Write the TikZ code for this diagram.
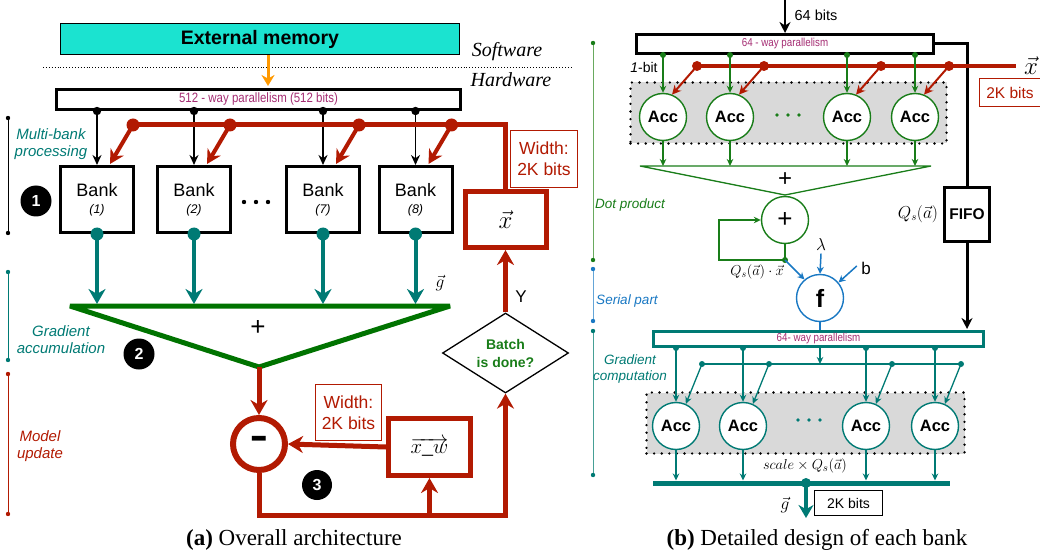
\documentclass[tikz,border=0pt]{standalone}
\usepackage{fontspec}
\setmainfont{Liberation Serif}
\setsansfont{Liberation Sans}
\newfontfamily\hv{Liberation Sans}
\newfontfamily\narrow[FakeStretch=0.85]{Liberation Sans}
\usetikzlibrary{arrows.meta,shapes.geometric,shadows,calc}
\definecolor{cyanbox}{RGB}{27,227,208}
\definecolor{dred}{RGB}{178,26,2}
\definecolor{teal2}{RGB}{0,122,116}
\definecolor{dgreen}{RGB}{0,115,0}
\definecolor{mgreen}{RGB}{25,125,25}
\definecolor{orng}{RGB}{255,153,0}
\definecolor{magt}{RGB}{165,45,115}
\definecolor{fblue}{RGB}{25,120,195}
\definecolor{lgreen}{RGB}{105,170,95}
\definecolor{lblue}{RGB}{100,165,215}
\definecolor{lteal}{RGB}{70,160,150}
\definecolor{grayfill}{RGB}{217,217,217}
\tikzset{
  blkbox/.style={draw, line width=3pt, inner sep=0pt, fill=white},
  redbox/.style={draw=dred, line width=5pt, inner sep=0pt, fill=white},
  shad/.style={drop shadow={shadow xshift=1.2pt, shadow yshift=-1.2pt, opacity=0.3, fill=black}},
  wbox/.style={draw=dred, line width=0.8pt, text=dred, inner sep=0pt, align=center,
    font=\hv\fontsize{17.5}{21}\selectfont, minimum width=66, minimum height=56, fill=white},
  numc/.style={circle, fill=black, text=white, inner sep=0pt, minimum size=31,
    font=\hv\bfseries\fontsize{16}{16}\selectfont},
  bankbox/.style={blkbox, shad, minimum width=73, minimum height=66, align=center,
    font=\hv\fontsize{18}{19}\selectfont},
  accg/.style={circle, draw=mgreen, line width=1.4pt, fill=white, minimum size=47, inner sep=0pt,
    font=\hv\bfseries\fontsize{16.5}{16.5}\selectfont},
  acct/.style={accg, draw=teal2},
  graybox/.style={fill=grayfill, draw=black, line width=2.6pt, dash pattern=on 0pt off 7.6pt,
    line cap=round, inner sep=0pt},
  brk/.style={line width=1pt},
  brklbl/.style={font=\hv\itshape\fontsize{15}{17}\selectfont, align=center},
  brklblr/.style={font=\hv\itshape\fontsize{13.5}{15.5}\selectfont, align=center},
  parlbl/.style={font=\narrow\fontsize{13.5}{13.5}\selectfont, text=magt},
  parlbls/.style={font=\narrow\fontsize{11.5}{11.5}\selectfont, text=magt},
  bigred/.style={dred, line width=5pt, -{Stealth[length=15pt,width=17pt]}},
  thinarr/.style={line width=1.3pt, -{Stealth[length=7pt,width=6.5pt]}},
}
\begin{document}
\begin{tikzpicture}[x=1pt,y=-1pt]
\useasboundingbox (0,0) rectangle (1040,553);

% ================= LEFT PANEL =================
\node[draw, line width=1pt, fill=cyanbox, minimum width=399, minimum height=31, inner sep=0pt,
  font=\hv\bfseries\fontsize{19.5}{19.5}\selectfont] (ext) at (260,39) {External memory};
\coordinate (dl) at (43,67); \coordinate (dr) at (572,67);
\draw[dotted, line width=0.9pt] (dl) -- (dr);
\node[font=\itshape\fontsize{20}{20}\selectfont] (sw) at (507,52) {Software};
\node[font=\itshape\fontsize{20}{20}\selectfont] (hw) at (511,80) {Hardware};

\node[blkbox, minimum width=404, minimum height=20, parlbl] (p512) at (258.5,99.5)
  {512 - way parallelism (512 bits)};
\draw[orng, line width=3pt, -{Stealth[length=11pt,width=13pt]}, shorten >=2pt]
  ($(ext.south)+(8,0)$) -- ($(p512.north)+(9.5,0)$);

% banks
\foreach \n/\x/\l in {b1/97/1, b2/194/2, b7/323/7, b8/415.5/8}{
  \node[bankbox] (\n) at (\x,199.5) {Bank\\[-2pt]{\itshape\fontsize{12.5}{12.5}\selectfont(\l)}};
}
\fill (244,202) circle (2.2) (256,202) circle (2.2) (268,202) circle (2.2);

% x vector box
\node[redbox, shad, minimum width=81, minimum height=56, font=\fontsize{24}{24}\selectfont]
  (xv) at (505.5,219.5) {$\vec{x}$};
\node[wbox, minimum width=67, minimum height=57] (w1) at (544,158.5) {Width:\\2K bits};

% black taps
\coordinate (rbus) at (0,125);
\foreach \n in {b1,b2,b7,b8}{
  \coordinate (k\n) at ($(\n.north)+(36,0)$);
  \fill (\n.north |- p512.south) circle (4.2);
  \draw[line width=1.6pt, -{Stealth[length=10pt,width=9pt]}] (\n.north |- p512.south) -- (\n.north);
}
% red bus
\draw[dred, line width=5pt] (xv.north) |- (kb1 |- rbus);
\foreach \n in {b1,b2,b7,b8}{
  \fill[dred] (k\n |- rbus) circle (6.5);
  \draw[dred, line width=4pt, -{Stealth[length=14pt,width=15pt]}] (k\n |- rbus) -- ($(\n.north)+(13,-1)$);
}

% accumulation triangle
\coordinate (gl) at (70,306); \coordinate (gr) at (450,306); \coordinate (apex) at (259,367);
\draw[dgreen, line width=5pt, line join=bevel] (gl) -- (gr) -- (apex) -- cycle;
\foreach \n in {b1,b2,b7,b8}{
  \draw[teal2, line width=4pt, -{Stealth[length=15pt,width=17pt]}, shorten >=2pt] (\n.south) -- (\n.south |- gl);
  \fill[teal2] (\n.south) circle (6.5);
}
\node[font=\hv\fontsize{26}{26}\selectfont] (plusa) at (258,328) {+};
\node[font=\fontsize{19}{19}\selectfont] (gvec) at (440,283) {$\vec{g}$};

\node[numc] (n1) at (36,201) {1};
\node[numc] (n2) at (139,354) {2};
\node[numc, minimum size=30] (n3) at (317,485) {3};

% model update
\node[circle, draw=dred, line width=6pt, minimum size=52, inner sep=0pt, fill=white,
  font=\hv\bfseries\fontsize{28}{28}\selectfont] (minus) at (259,444) {\raisebox{-2pt}{\scalebox{1}[1.7]{–}}};
\draw[bigred] (apex) -- (minus.north);
\node[redbox, shad, minimum width=82, minimum height=57, font=\fontsize{22}{22}\selectfont]
  (xw) at (429.5,447) {$\overrightarrow{x\_w}$};
\draw[bigred] (xw.west) -- (minus.east);
\node[wbox] (w2) at (348.5,412.5) {Width:\\2K bits};

\node[diamond, draw, line width=1.3pt, aspect=1.575, minimum width=126, minimum height=80,
  inner sep=0pt, align=center, text=mgreen, font=\hv\bfseries\fontsize{14}{18}\selectfont]
  (dia) at (505.5,353) {Batch\\is done?};
\draw[bigred] (dia.north) -- (xv.south);
\node[font=\hv\fontsize{17}{17}\selectfont] (ylab) at (521,297) {Y};

\coordinate (loopy) at (0,515);
\draw[dred, line width=5pt, line join=miter, -{Stealth[length=15pt,width=17pt]}]
  (minus.south) |- (loopy -| dia.south) -- (dia.south);
\draw[bigred] (xw.south |- loopy) -- (xw.south);

% left brackets
\coordinate (k1a) at (8,118); \coordinate (k1b) at (8,233);
\coordinate (k2a) at (8,272); \coordinate (k2b) at (8,360);
\coordinate (k3a) at (8,374); \coordinate (k3b) at (8,514);
\draw[brk, black] (k1a) -- (k1b); \fill[black] (k1a) circle (2.2) (k1b) circle (2.2);
\draw[brk, teal2] (k2a) -- (k2b); \fill[teal2] (k2a) circle (2.2) (k2b) circle (2.2);
\draw[brk, dred] (k3a) -- (k3b); \fill[dred] (k3a) circle (2.2) (k3b) circle (2.2);
\node[brklbl, text=teal2] (lb1) at (51,144) {Multi-bank\\processing};
\node[brklbl, text=teal2] (lb2) at (61,340) {Gradient\\accumulation};
\node[brklbl, text=dred] (lb3) at (40,446) {Model\\update};

\node[font=\fontsize{23}{23}\selectfont] (capa) at (294,540) {\textbf{(a)} Overall architecture};

% ================= RIGHT PANEL =================
\coordinate (top64) at (785,0);
\node[blkbox, minimum width=297, minimum height=19, parlbls] (p64) at (785,44) {64 - way parallelism};
\draw[line width=2.6pt, -{Stealth[length=11pt,width=11pt]}] (top64) -- (p64.north);
\node[font=\hv\fontsize{14.5}{14.5}\selectfont] (t64) at (816,15) {64 bits};

\node[blkbox, minimum width=45, minimum height=54, font=\hv\bfseries\fontsize{15.5}{15.5}\selectfont]
  (fifo) at (967,214.5) {FIFO};
\draw[line width=3pt] (p64.east) -| (fifo.north);
\node[font=\fontsize{16}{16}\selectfont] (qsa) at (918,214) {$Q_s(\vec{a})$};

% gray region 1 and accs
\node[graybox, minimum width=316, minimum height=61] (reg1) at (788.5,113) {};
\foreach \n/\x in {a1/663, a2/730, a3/847, a4/915}{
  \node[accg] (\n) at (\x,117) {Acc};
}
\fill[mgreen] (777,115) circle (1.8) (788,115) circle (1.8) (799,115) circle (1.8);

% red bus right
\coordinate (xr) at (1016,66);
\coordinate (rb2) at (0,66);
\foreach \n in {a1,a2,a3,a4}{ \coordinate (k\n) at ($(\n.center)+(34,0)$); }
\draw[dred, line width=4.5pt] (ka1 |- rb2) -- (xr);
\foreach \n in {a1,a2,a3,a4}{
  \fill[dred] (k\n |- rb2) circle (5);
  \draw[dred, line width=2pt, -{Stealth[length=9pt,width=9pt]}] (k\n |- rb2) -- (\n.68);
}
\node[font=\fontsize{24}{24}\selectfont] (xvr) at (1031,66) {$\vec{x}$};
\node[draw=dred, line width=0.8pt, text=dred, minimum width=62, minimum height=28, inner sep=0pt,
  font=\hv\fontsize{15.5}{15.5}\selectfont] (w3) at (1010,92.5) {2K bits};

% green taps
\foreach \n in {a1,a2,a3,a4}{
  \fill[mgreen] (\n.north |- p64.south) circle (3);
  \draw[mgreen, thinarr] (\n.north |- p64.south) -- (\n.north);
}
\node[font=\hv\fontsize{14}{14}\selectfont] (onebit) at (644,67) {{\itshape 1}-bit};

% dot product triangle
\coordinate (tl1) at (640,166); \coordinate (tr1) at (931,166); \coordinate (ap1) at (785,195);
\draw[mgreen, line width=1.3pt] (tl1) -- (tr1) -- (ap1) -- cycle;
\foreach \n in {a1,a2,a3,a4}{
  \draw[mgreen, thinarr] (\n.south) -- (\n.south |- tl1);
}
\node[font=\hv\fontsize{24}{24}\selectfont] (plusb) at (785,180) {+};
\node[circle, draw=mgreen, line width=1.4pt, minimum size=47, inner sep=0pt, fill=white,
  font=\hv\fontsize{26}{26}\selectfont] (pl2) at (785,220) {+};
\coordinate (fb) at (785,260); \coordinate (fbl) at (719,260);
\draw[mgreen, line width=1.3pt] (pl2.south) -- (fb);
\draw[mgreen, thinarr] (fb) -- (fbl) |- (pl2.west);
\fill[mgreen] (fb) circle (3);
\node[font=\fontsize{14}{14}\selectfont] (qdot) at (757,272) {$Q_s(\vec{a})\cdot\vec{x}$};

% serial part
\node[circle, draw=fblue, line width=1.4pt, minimum size=47, inner sep=0pt, fill=white,
  font=\hv\bfseries\fontsize{25}{25}\selectfont] (f) at (820,298) {f};
\draw[fblue, line width=1.5pt, -{Stealth[length=7pt,width=7pt]}] (fb) -- (f.130);
\node[font=\fontsize{17}{17}\selectfont] (lam) at (821,244) {$\lambda$};
\draw[fblue, line width=1.5pt, -{Stealth[length=7pt,width=7pt]}] (lam.south) -- (f.north);
\node[font=\hv\fontsize{17}{17}\selectfont] (bb) at (866,268) {b};
\draw[fblue, line width=1.5pt, -{Stealth[length=7pt,width=7pt]}] ($(bb.west)+(-1,-2)$) -- (f.40);

% gradient computation
\node[draw=teal2, line width=3pt, fill=white, inner sep=0pt, minimum width=330, minimum height=15, parlbls]
  (p64b) at (818.5,339) {64- way parallelism};
\draw[line width=3pt, -{Stealth[length=11pt,width=11pt]}, shorten >=1pt] (fifo.south) -- (fifo.south |- p64b.north);
\draw[fblue, line width=1.3pt] (f.south) -- (f.south |- p64b.north);

\node[graybox, minimum width=318, minimum height=61] (reg2) at (805.5,423) {};
\foreach \n/\x in {c1/676, c2/743, c3/866, c4/935}{
  \node[acct] (\n) at (\x,426) {Acc};
}
\fill[teal2] (798,420) circle (1.8) (809,420) circle (1.8) (820,420) circle (1.8);

\coordinate (tl2) at (702,364); \coordinate (tr2) at (963,364);
\draw[teal2, line width=1.3pt] (tl2) -- (tr2);
\draw[teal2, thinarr] (f.south |- p64b.south) -- (f.south |- tl2);
\foreach \n in {c1,c2,c3,c4}{
  \coordinate (k\n) at ($(\n.center)+(26,0)$);
  \fill[teal2] (k\n |- tl2) circle (3);
  \draw[teal2, thinarr] (k\n |- tl2) -- (\n.66);
  \fill[teal2] (\n.north |- p64b.south) circle (3);
  \draw[teal2, thinarr] (\n.north |- p64b.south) -- (\n.north);
}
\coordinate (bl3) at (653,483); \coordinate (br3) at (950,483);
\coordinate (gdot) at (806,483); \coordinate (gend) at (806,518);
\foreach \n in {c1,c2,c3,c4}{
  \draw[teal2, thinarr, shorten >=2.5pt] (\n.south) -- (\n.south |- bl3);
}
\draw[teal2, line width=5pt] (bl3) -- (br3);
\draw[teal2, line width=4pt, -{Stealth[length=13pt,width=15pt]}] (gdot) -- (gend);
\fill[teal2] (gdot) circle (5);
\node[font=\fontsize{15}{15}\selectfont] (scl) at (805,466) {$scale\times Q_s(\vec{a})$};
\node[font=\fontsize{18}{18}\selectfont] (gvr) at (785,505) {$\vec{g}$};
\node[draw, line width=1.2pt, minimum width=68, minimum height=25, inner sep=0pt,
  font=\hv\fontsize{14}{14}\selectfont] (k2b) at (848.5,503) {2K bits};

% right brackets
\coordinate (r1a) at (593,43); \coordinate (r1b) at (593,260);
\coordinate (r2a) at (593,269); \coordinate (r2b) at (593,321);
\coordinate (r3a) at (593,331); \coordinate (r3b) at (593,475);
\draw[brk, lgreen] (r1a) -- (r1b); \fill[mgreen] (r1a) circle (2.2) (r1b) circle (2.2);
\draw[brk, lblue] (r2a) -- (r2b); \fill[fblue] (r2a) circle (2.2) (r2b) circle (2.2);
\draw[brk, lteal] (r3a) -- (r3b); \fill[teal2] (r3a) circle (2.2) (r3b) circle (2.2);
\node[brklblr, text=mgreen] (rl1) at (630,205) {Dot product};
\node[brklblr, text=fblue] (rl2) at (627,301) {Serial part};
\node[brklblr, text=teal2] (rl3) at (630,369) {Gradient\\computation};

\node[font=\fontsize{23}{23}\selectfont] (capb) at (817,540) {\textbf{(b)} Detailed design of each bank};
\end{tikzpicture}
\end{document}
